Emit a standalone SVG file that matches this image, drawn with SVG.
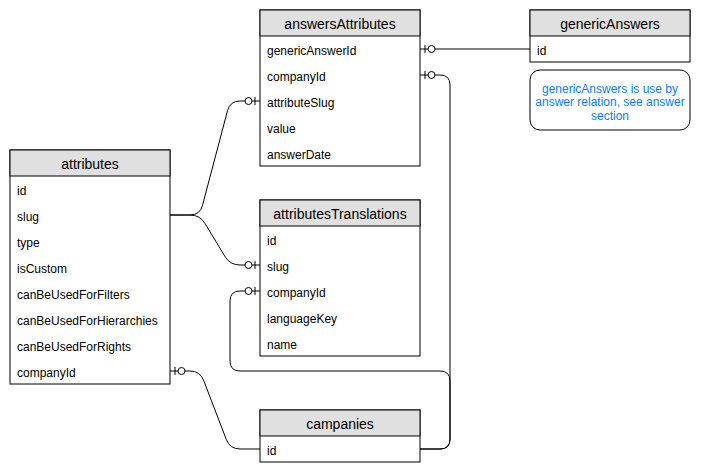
<svg xmlns="http://www.w3.org/2000/svg" width="701" height="476" viewBox="0 0 701 476">
<style>
.box{fill:#ffffff;stroke:#000000;stroke-width:1}
.hdr{fill:#e0e0e0;stroke:#000000;stroke-width:1}
.ht{font-family:"Liberation Sans",Arial,sans-serif;font-size:14px;fill:#000000;text-anchor:middle}
.rt{font-family:"Liberation Sans",Arial,sans-serif;font-size:12px;fill:#000000}
.note{font-family:"Liberation Sans",Arial,sans-serif;font-size:12px;fill:#007FFF;text-anchor:middle}
.edge{fill:none;stroke:#000000;stroke-width:1}
</style>
<defs>
<marker id="zeroOne" viewBox="-20 -8 22 16" refX="0" refY="0" markerWidth="22" markerHeight="16" markerUnits="userSpaceOnUse" orient="auto-start-reverse" overflow="visible">
<line x1="-5" y1="-4" x2="-5" y2="4" stroke="#000000" stroke-width="1"/>
<circle cx="-11.5" cy="0" r="3.5" fill="#ffffff" stroke="#000000" stroke-width="1"/>
</marker>
</defs>
<rect width="701" height="476" fill="#ffffff"/>
<g id="connectors">
<path class="edge" d="M420 49 L530 49" marker-start="url(#zeroOne)"/>
<path class="edge" d="M420 75 L440 75 Q450 75 450 85 L450 439 Q450 449 440 449 L420 449" marker-start="url(#zeroOne)"/>
<path class="edge" d="M260 291 L240 291 Q230 291 230 301 L230 361 Q230 371 240 371 L440 371 Q450 371 450 381 L450 439 Q450 449 440 449 L420 449" marker-start="url(#zeroOne)"/>
<path class="edge" d="M170 215 L190 215 Q200 215 202.5 205.3 L227.5 110.7 Q230 101 240 101 L260 101" marker-end="url(#zeroOne)"/>
<path class="edge" d="M170 215 L190 215 Q200 215 205.1 223.6 L224.9 256.4 Q230 265 240 265 L260 265" marker-end="url(#zeroOne)"/>
<path class="edge" d="M170 371 L190 371 Q200 371 203.6 380.3 L226.4 439.7 Q230 449 240 449 L260 449" marker-start="url(#zeroOne)"/>
</g>
<g id="attributes">
<rect class="box" x="10" y="150" width="160" height="234"/>
<rect class="hdr" x="10" y="150" width="160" height="26"/>
<text class="ht" x="90" y="169">attributes</text>
<text class="rt" x="17" y="194.5">id</text>
<text class="rt" x="17" y="220.5">slug</text>
<text class="rt" x="17" y="246.5">type</text>
<text class="rt" x="17" y="272.5">isCustom</text>
<text class="rt" x="17" y="298.5">canBeUsedForFilters</text>
<text class="rt" x="17" y="324.5">canBeUsedForHierarchies</text>
<text class="rt" x="17" y="350.5">canBeUsedForRights</text>
<text class="rt" x="17" y="376.5">companyId</text>
</g>
<g id="answersAttributes">
<rect class="box" x="260" y="10" width="160" height="156"/>
<rect class="hdr" x="260" y="10" width="160" height="26"/>
<text class="ht" x="340" y="29">answersAttributes</text>
<text class="rt" x="267" y="54.5">genericAnswerId</text>
<text class="rt" x="267" y="80.5">companyId</text>
<text class="rt" x="267" y="106.5">attributeSlug</text>
<text class="rt" x="267" y="132.5">value</text>
<text class="rt" x="267" y="158.5">answerDate</text>
</g>
<g id="attributesTranslations">
<rect class="box" x="260" y="200" width="160" height="156"/>
<rect class="hdr" x="260" y="200" width="160" height="26"/>
<text class="ht" x="340" y="219">attributesTranslations</text>
<text class="rt" x="267" y="244.5">id</text>
<text class="rt" x="267" y="270.5">slug</text>
<text class="rt" x="267" y="296.5">companyId</text>
<text class="rt" x="267" y="322.5">languageKey</text>
<text class="rt" x="267" y="348.5">name</text>
</g>
<g id="campanies">
<rect class="box" x="260" y="410" width="160" height="52"/>
<rect class="hdr" x="260" y="410" width="160" height="26"/>
<text class="ht" x="340" y="429">campanies</text>
<text class="rt" x="267" y="454.5">id</text>
</g>
<g id="genericAnswers">
<rect class="box" x="530" y="10" width="160" height="52"/>
<rect class="hdr" x="530" y="10" width="160" height="26"/>
<text class="ht" x="610" y="29">genericAnswers</text>
<text class="rt" x="537" y="54.5">id</text>
</g>
<g id="note">
<rect class="box" x="530" y="70" width="160" height="60" rx="10" ry="10"/>
<text class="note" x="610" y="92.5">genericAnswers is use by</text>
<text class="note" x="610" y="106">answer relation, see answer</text>
<text class="note" x="610" y="119.5">section</text>
</g>
</svg>
